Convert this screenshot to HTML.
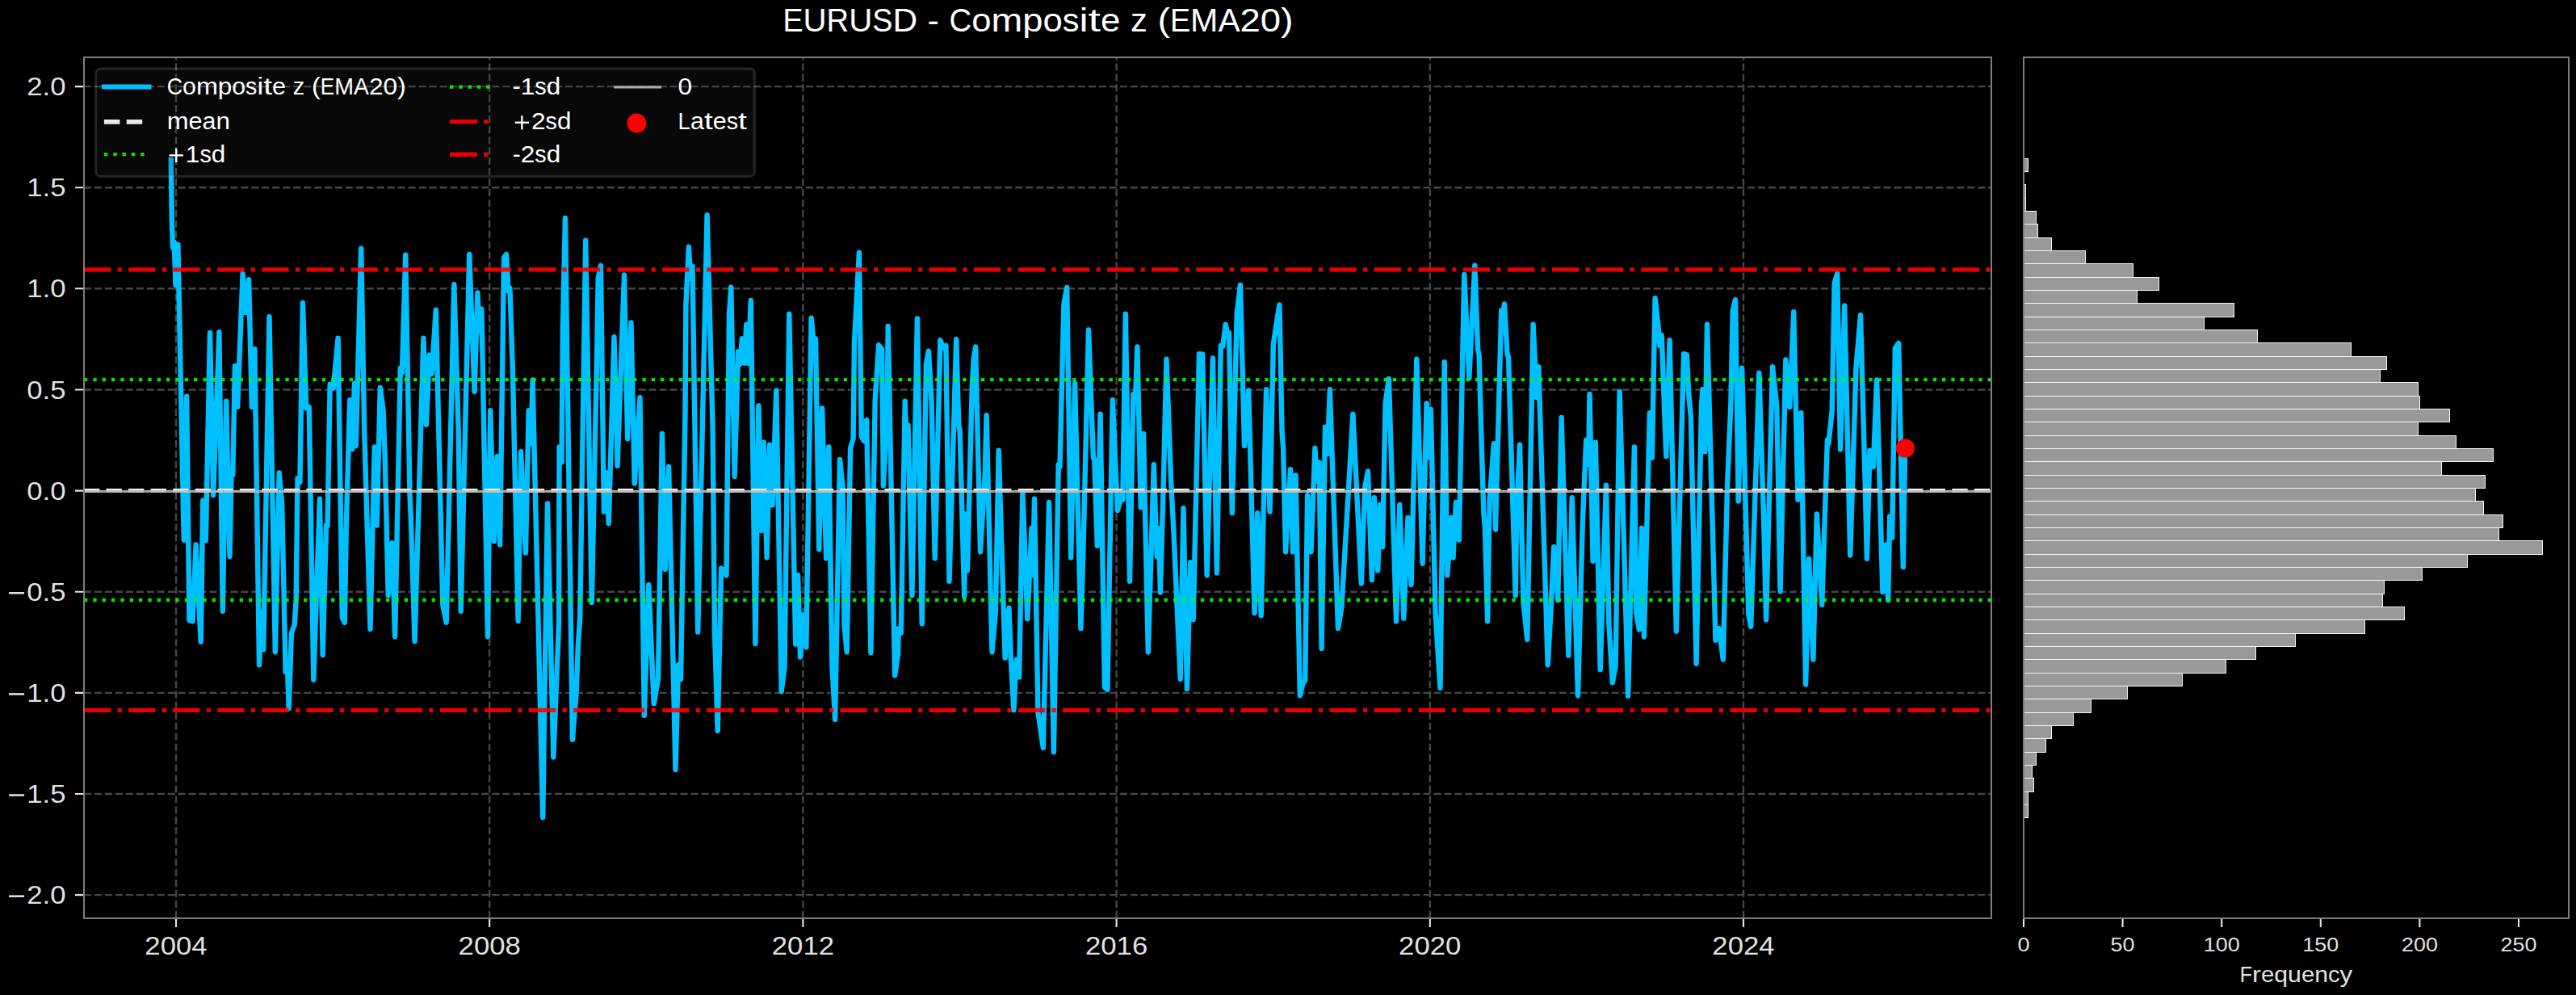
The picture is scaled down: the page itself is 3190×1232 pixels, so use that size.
<!DOCTYPE html>
<html><head><meta charset="utf-8"><title>EURUSD - Composite z (EMA20)</title>
<style>html,body{margin:0;padding:0;background:#000;}svg{display:block;}text{font-family:"Liberation Sans",sans-serif;}</style></head>
<body>
<svg width="3190" height="1232" viewBox="0 0 3190 1232" font-family="Liberation Sans, sans-serif">
<rect width="3190" height="1232" fill="#000"/>
<defs><clipPath id="cp"><rect x="104.0" y="71.0" width="2362.0" height="1066.0"/></clipPath></defs>
<path d="M218.0 1137.0V71.0M606.2 1137.0V71.0M994.4 1137.0V71.0M1382.6 1137.0V71.0M1770.8 1137.0V71.0M2159.0 1137.0V71.0M104.0 1108.1H2466.0M104.0 983.0H2466.0M104.0 857.9H2466.0M104.0 732.7H2466.0M104.0 607.6H2466.0M104.0 482.5H2466.0M104.0 357.3H2466.0M104.0 232.2H2466.0M104.0 107.1H2466.0" stroke="#464646" stroke-width="2.4" stroke-dasharray="9.045 3.912" fill="none"/>
<g clip-path="url(#cp)"><path d="M211.7 194.8 L212.8 272.0 L214.0 307.0 L215.7 299.7 L217.5 353.0 L220.4 302.6 L227.7 668.6 L231.2 490.8 L234.4 767.9 L238.5 769.3 L242.6 674.4 L248.7 794.7 L251.3 619.6 L254.8 669.2 L260.0 411.9 L264.1 613.2 L271.4 411.3 L275.8 756.8 L280.2 496.6 L284.5 689.0 L286.6 582.6 L288.3 588.4 L290.9 452.9 L294.1 503.9 L300.6 339.0 L304.1 387.1 L308.1 346.3 L311.9 503.9 L315.4 432.3 L321.0 823.3 L323.9 759.1 L326.2 804.3 L333.5 392.1 L340.8 807.2 L345.7 585.5 L349.2 624.9 L353.6 832.0 L355.9 824.7 L357.7 877.2 L360.9 783.9 L364.7 773.7 L366.7 741.7 L368.5 592.2 L371.4 597.2 L374.9 374.9 L379.2 505.4 L382.7 503.9 L388.3 841.6 L395.9 617.6 L399.7 811.0 L404.0 650.5 L405.5 651.1 L408.7 475.6 L412.8 480.6 L418.6 418.6 L423.8 765.0 L426.8 770.8 L428.8 651.1 L433.2 495.2 L436.1 556.4 L439.0 474.8 L440.7 552.0 L447.2 307.6 L451.2 534.5 L458.5 779.0 L463.8 553.5 L466.7 650.5 L470.8 480.0 L474.6 508.3 L476.9 572.4 L480.7 737.3 L485.6 672.1 L489.1 788.3 L495.8 455.8 L497.9 461.7 L502.2 315.7 L507.5 613.2 L508.9 642.4 L513.6 794.1 L524.4 418.6 L527.9 525.8 L531.7 439.6 L534.6 463.1 L539.8 383.6 L548.3 748.9 L552.7 770.8 L562.3 352.2 L567.8 537.4 L570.7 756.8 L581.2 314.9 L587.6 485.0 L591.4 362.4 L593.8 410.5 L596.4 382.8 L604.0 788.3 L607.2 508.3 L611.8 670.1 L615.6 565.1 L619.1 674.4 L624.1 318.6 L627.0 314.9 L629.6 360.9 L631.4 356.5 L634.9 458.7 L641.6 768.8 L645.1 559.3 L650.9 684.6 L654.7 508.3 L657.6 549.1 L659.6 470.4 L672.2 1012.1 L678.0 623.4 L685.3 937.5 L692.0 773.7 L692.6 553.5 L695.5 572.4 L696.9 406.1 L699.9 270.0 L708.9 915.7 L713.6 858.2 L715.9 798.5 L718.2 765.0 L725.2 297.7 L732.8 746.0 L739.2 438.1 L740.7 344.9 L743.9 328.8 L747.9 633.6 L750.9 585.5 L753.8 648.2 L760.5 417.2 L764.6 576.8 L773.0 340.5 L777.1 543.3 L781.5 399.4 L785.8 598.6 L792.5 492.3 L797.8 885.9 L803.3 724.2 L809.7 871.4 L815.0 840.8 L819.9 536.9 L823.7 705.0 L828.1 577.7 L836.5 953.0 L840.0 823.3 L843.0 841.3 L848.5 512.7 L849.4 376.9 L852.9 305.8 L855.2 344.9 L857.5 329.7 L864.2 782.5 L875.6 266.2 L882.6 528.7 L884.9 778.1 L888.7 904.9 L893.1 703.6 L899.5 712.3 L903.0 388.6 L905.3 355.7 L909.7 589.9 L914.1 435.2 L916.1 451.3 L919.0 419.2 L921.7 449.8 L924.3 401.7 L926.6 449.8 L929.8 372.0 L935.4 797.0 L939.4 502.5 L942.9 656.9 L945.8 547.6 L949.6 690.5 L953.1 550.6 L956.6 625.5 L961.3 483.5 L967.7 856.2 L971.5 826.2 L977.3 388.6 L985.2 797.6 L988.1 712.3 L991.0 813.6 L994.2 761.5 L998.3 801.4 L1004.7 393.8 L1007.6 423.6 L1010.0 419.2 L1014.3 680.3 L1018.1 505.4 L1023.1 691.3 L1026.3 553.5 L1030.4 823.3 L1034.1 890.9 L1040.0 568.9 L1043.5 601.6 L1045.5 773.7 L1048.7 807.2 L1053.1 554.9 L1056.6 543.3 L1058.0 423.6 L1063.9 312.8 L1066.8 540.4 L1070.0 546.2 L1073.2 520.0 L1078.4 808.1 L1083.7 495.2 L1088.1 427.1 L1092.1 432.3 L1093.9 601.6 L1098.8 502.5 L1099.7 404.0 L1108.2 836.4 L1112.0 810.2 L1112.8 778.1 L1115.8 783.9 L1120.7 496.6 L1122.5 552.0 L1124.5 526.4 L1129.4 737.3 L1135.9 394.4 L1141.7 772.3 L1146.9 451.3 L1149.9 434.6 L1153.6 496.6 L1157.7 691.3 L1164.4 421.2 L1167.9 430.9 L1171.4 427.9 L1175.5 719.6 L1184.2 420.1 L1187.2 525.8 L1188.6 533.1 L1194.2 738.7 L1195.3 636.5 L1197.9 706.5 L1203.8 479.1 L1205.8 444.0 L1208.1 429.4 L1214.0 683.2 L1219.8 587.0 L1221.6 514.1 L1228.5 807.2 L1232.9 757.7 L1236.7 557.8 L1244.6 814.5 L1249.5 752.7 L1251.9 817.4 L1255.4 879.2 L1258.6 816.6 L1262.1 838.4 L1266.4 608.8 L1272.3 766.4 L1277.5 654.0 L1279.0 712.3 L1281.0 617.6 L1285.4 881.6 L1288.3 902.0 L1291.8 925.9 L1299.1 622.0 L1304.9 931.1 L1310.7 575.3 L1312.5 578.2 L1317.4 376.9 L1321.2 356.0 L1326.2 690.5 L1331.1 474.8 L1338.4 778.1 L1341.6 674.4 L1348.0 408.4 L1353.9 566.6 L1355.3 569.5 L1358.8 675.9 L1362.6 512.7 L1367.9 851.0 L1371.4 853.9 L1377.8 495.2 L1383.9 632.2 L1388.8 613.2 L1390.3 619.0 L1393.8 388.6 L1399.0 719.6 L1403.4 487.9 L1405.8 498.1 L1408.4 429.4 L1412.7 628.4 L1416.0 536.9 L1421.8 807.2 L1428.8 575.3 L1432.6 689.0 L1434.9 654.0 L1436.9 733.5 L1441.3 578.2 L1444.5 444.6 L1450.1 595.7 L1453.0 649.7 L1461.7 840.8 L1465.5 629.2 L1469.9 853.0 L1474.2 696.3 L1477.7 767.3 L1485.0 438.1 L1489.1 438.7 L1494.6 712.3 L1501.9 443.4 L1506.9 709.4 L1511.8 427.9 L1514.2 428.8 L1517.7 401.7 L1520.0 413.4 L1522.0 411.9 L1525.8 635.1 L1531.7 388.6 L1536.0 353.0 L1541.0 552.0 L1546.2 483.5 L1553.5 759.1 L1557.3 635.1 L1561.7 762.1 L1568.1 482.1 L1572.5 633.6 L1576.8 426.5 L1579.8 406.1 L1584.4 377.5 L1587.6 534.5 L1589.1 554.9 L1592.0 683.2 L1598.1 581.2 L1601.0 683.2 L1604.5 588.4 L1609.8 861.2 L1613.3 846.6 L1616.2 842.2 L1619.1 613.2 L1623.5 683.2 L1628.4 554.9 L1631.3 595.7 L1633.7 572.4 L1636.6 802.9 L1641.0 528.7 L1643.9 562.2 L1646.8 482.1 L1657.0 778.1 L1661.4 751.9 L1675.4 512.7 L1685.8 722.5 L1690.2 603.0 L1694.0 583.5 L1698.9 718.1 L1701.9 616.1 L1706.2 706.5 L1709.1 624.9 L1712.1 677.3 L1715.6 499.5 L1719.9 468.9 L1729.0 769.3 L1733.3 624.9 L1738.3 765.6 L1743.5 640.9 L1747.6 724.0 L1754.3 444.6 L1761.6 697.7 L1766.6 499.5 L1768.9 566.6 L1771.8 506.8 L1777.6 759.1 L1783.5 851.8 L1788.7 448.3 L1792.2 712.3 L1797.2 640.9 L1799.5 690.5 L1803.0 622.0 L1806.8 668.6 L1813.2 339.9 L1819.3 468.1 L1826.3 328.8 L1830.1 432.3 L1831.6 439.6 L1834.5 543.3 L1837.4 636.5 L1838.8 651.1 L1842.1 769.3 L1844.7 617.6 L1849.9 549.1 L1852.0 655.5 L1859.2 384.2 L1860.7 391.5 L1863.0 376.4 L1866.5 438.1 L1868.0 442.5 L1876.7 737.3 L1878.2 636.5 L1882.0 550.6 L1886.4 746.0 L1891.3 791.8 L1898.6 401.7 L1903.0 492.3 L1905.3 454.2 L1916.7 823.3 L1920.5 756.2 L1924.2 677.3 L1929.2 743.1 L1933.6 517.0 L1942.3 811.6 L1946.7 616.1 L1954.0 861.2 L1959.8 648.2 L1964.2 544.7 L1967.1 575.3 L1968.5 487.9 L1972.6 694.8 L1975.8 547.6 L1981.7 829.1 L1988.9 601.0 L1992.4 772.3 L1996.8 845.1 L2000.6 824.7 L2005.6 485.0 L2010.8 665.7 L2016.1 861.7 L2023.9 553.5 L2026.3 759.1 L2029.8 779.5 L2033.0 654.0 L2035.9 788.3 L2042.9 511.2 L2045.8 566.6 L2049.6 369.1 L2053.1 400.3 L2055.4 427.9 L2057.7 414.8 L2063.3 565.1 L2067.6 421.2 L2075.8 781.6 L2085.1 438.1 L2088.9 439.6 L2091.0 485.0 L2093.9 517.0 L2100.6 821.8 L2107.0 502.5 L2108.4 482.1 L2111.4 559.3 L2114.0 401.7 L2124.5 792.7 L2128.8 778.1 L2133.8 816.6 L2139.0 601.6 L2143.4 499.5 L2145.8 384.2 L2149.0 371.1 L2152.7 620.5 L2157.1 455.6 L2165.3 760.6 L2168.2 775.8 L2178.4 461.7 L2184.2 648.2 L2187.1 767.3 L2195.0 454.2 L2200.3 502.5 L2204.6 732.3 L2211.3 445.4 L2216.3 503.9 L2221.2 386.3 L2226.5 619.0 L2230.3 511.2 L2236.1 847.5 L2240.2 691.9 L2245.4 816.6 L2249.8 636.5 L2256.2 748.9 L2262.9 544.7 L2264.4 549.1 L2268.7 508.3 L2271.7 350.7 L2275.2 338.5 L2279.0 556.4 L2284.2 378.4 L2291.2 687.5 L2298.5 454.2 L2304.0 390.1 L2309.6 595.7 L2311.9 691.9 L2315.4 557.8 L2319.8 578.2 L2324.1 470.4 L2331.4 732.9 L2335.2 674.4 L2338.1 743.1 L2340.2 639.4 L2343.1 665.7 L2346.9 430.9 L2351.2 425.0 L2356.8 702.1 L2359.1 554.9" stroke="#00bfff" stroke-width="6.4" stroke-linejoin="round" stroke-linecap="butt" fill="none"/></g>
<path d="M104.0 607.5H2466.0" stroke="#f0f0f0" stroke-width="5.2" stroke-dasharray="19.23 8.31" fill="none"/>
<path d="M104.0 470.2H2466.0" stroke="#00ff00" stroke-opacity="0.9" stroke-width="4.3" stroke-dasharray="4.3 7.035" fill="none"/>
<path d="M104.0 743.0H2466.0" stroke="#00ff00" stroke-opacity="0.9" stroke-width="4.3" stroke-dasharray="4.3 7.035" fill="none"/>
<path d="M104.0 333.8H2466.0" stroke="#ff0000" stroke-opacity="0.9" stroke-width="5.2" stroke-dasharray="33.26 8.315 5.2 8.315" fill="none"/>
<path d="M104.0 879.4H2466.0" stroke="#ff0000" stroke-opacity="0.9" stroke-width="5.2" stroke-dasharray="33.26 8.315 5.2 8.315" fill="none"/>
<path d="M104.0 608.5H2466.0" stroke="#b8b8b8" stroke-opacity="0.87" stroke-width="3.0" fill="none"/>
<circle cx="2359.2" cy="555.0" r="11.6" fill="#ff0000"/>
<rect x="104.0" y="71.0" width="2362.0" height="1066.0" fill="none" stroke="#7e7e7e" stroke-width="2"/>
<path d="M218.0 1138.0v10M606.2 1138.0v10M994.4 1138.0v10M1382.6 1138.0v10M1770.8 1138.0v10M2159.0 1138.0v10M103.0 1108.1h-10M103.0 983.0h-10M103.0 857.9h-10M103.0 732.7h-10M103.0 607.6h-10M103.0 482.5h-10M103.0 357.3h-10M103.0 232.2h-10M103.0 107.1h-10" stroke="#e6e6e6" stroke-width="2.1" fill="none"/>
<g font-size="31.01" fill="#e2e2e2"><text x="179.3" y="1182.2" textLength="19.3" lengthAdjust="spacingAndGlyphs">2</text><text x="198.7" y="1182.2" textLength="19.3" lengthAdjust="spacingAndGlyphs">0</text><text x="218.0" y="1182.2" textLength="19.3" lengthAdjust="spacingAndGlyphs">0</text><text x="237.3" y="1182.2" textLength="19.3" lengthAdjust="spacingAndGlyphs">4</text></g>
<g font-size="31.01" fill="#e2e2e2"><text x="567.5" y="1182.2" textLength="19.3" lengthAdjust="spacingAndGlyphs">2</text><text x="586.9" y="1182.2" textLength="19.3" lengthAdjust="spacingAndGlyphs">0</text><text x="606.2" y="1182.2" textLength="19.3" lengthAdjust="spacingAndGlyphs">0</text><text x="625.5" y="1182.2" textLength="19.3" lengthAdjust="spacingAndGlyphs">8</text></g>
<g font-size="31.01" fill="#e2e2e2"><text x="955.7" y="1182.2" textLength="19.3" lengthAdjust="spacingAndGlyphs">2</text><text x="975.1" y="1182.2" textLength="19.3" lengthAdjust="spacingAndGlyphs">0</text><text x="994.4" y="1182.2" textLength="19.3" lengthAdjust="spacingAndGlyphs">1</text><text x="1013.7" y="1182.2" textLength="19.3" lengthAdjust="spacingAndGlyphs">2</text></g>
<g font-size="31.01" fill="#e2e2e2"><text x="1343.9" y="1182.2" textLength="19.3" lengthAdjust="spacingAndGlyphs">2</text><text x="1363.3" y="1182.2" textLength="19.3" lengthAdjust="spacingAndGlyphs">0</text><text x="1382.6" y="1182.2" textLength="19.3" lengthAdjust="spacingAndGlyphs">1</text><text x="1401.9" y="1182.2" textLength="19.3" lengthAdjust="spacingAndGlyphs">6</text></g>
<g font-size="31.01" fill="#e2e2e2"><text x="1732.1" y="1182.2" textLength="19.3" lengthAdjust="spacingAndGlyphs">2</text><text x="1751.5" y="1182.2" textLength="19.3" lengthAdjust="spacingAndGlyphs">0</text><text x="1770.8" y="1182.2" textLength="19.3" lengthAdjust="spacingAndGlyphs">2</text><text x="1790.1" y="1182.2" textLength="19.3" lengthAdjust="spacingAndGlyphs">0</text></g>
<g font-size="31.01" fill="#e2e2e2"><text x="2120.3" y="1182.2" textLength="19.3" lengthAdjust="spacingAndGlyphs">2</text><text x="2139.7" y="1182.2" textLength="19.3" lengthAdjust="spacingAndGlyphs">0</text><text x="2159.0" y="1182.2" textLength="19.3" lengthAdjust="spacingAndGlyphs">2</text><text x="2178.3" y="1182.2" textLength="19.3" lengthAdjust="spacingAndGlyphs">4</text></g>
<g font-size="31.01" fill="#e2e2e2"><rect x="11.01" y="1108.41" width="19.03" height="2.55"/><text x="33.3" y="1119.2" textLength="19.3" lengthAdjust="spacingAndGlyphs">2</text><text x="52.6" y="1119.2" textLength="9.7" lengthAdjust="spacingAndGlyphs">.</text><text x="62.3" y="1119.2" textLength="19.3" lengthAdjust="spacingAndGlyphs">0</text></g>
<g font-size="31.01" fill="#e2e2e2"><rect x="11.01" y="983.28" width="19.03" height="2.55"/><text x="33.3" y="994.1" textLength="19.3" lengthAdjust="spacingAndGlyphs">1</text><text x="52.6" y="994.1" textLength="9.7" lengthAdjust="spacingAndGlyphs">.</text><text x="62.3" y="994.1" textLength="19.3" lengthAdjust="spacingAndGlyphs">5</text></g>
<g font-size="31.01" fill="#e2e2e2"><rect x="11.01" y="858.15" width="19.03" height="2.55"/><text x="33.3" y="869.0" textLength="19.3" lengthAdjust="spacingAndGlyphs">1</text><text x="52.6" y="869.0" textLength="9.7" lengthAdjust="spacingAndGlyphs">.</text><text x="62.3" y="869.0" textLength="19.3" lengthAdjust="spacingAndGlyphs">0</text></g>
<g font-size="31.01" fill="#e2e2e2"><rect x="11.01" y="733.02" width="19.03" height="2.55"/><text x="33.3" y="743.8" textLength="19.3" lengthAdjust="spacingAndGlyphs">0</text><text x="52.6" y="743.8" textLength="9.7" lengthAdjust="spacingAndGlyphs">.</text><text x="62.3" y="743.8" textLength="19.3" lengthAdjust="spacingAndGlyphs">5</text></g>
<g font-size="31.01" fill="#e2e2e2"><text x="33.3" y="618.7" textLength="19.3" lengthAdjust="spacingAndGlyphs">0</text><text x="52.6" y="618.7" textLength="9.7" lengthAdjust="spacingAndGlyphs">.</text><text x="62.3" y="618.7" textLength="19.3" lengthAdjust="spacingAndGlyphs">0</text></g>
<g font-size="31.01" fill="#e2e2e2"><text x="33.3" y="493.6" textLength="19.3" lengthAdjust="spacingAndGlyphs">0</text><text x="52.6" y="493.6" textLength="9.7" lengthAdjust="spacingAndGlyphs">.</text><text x="62.3" y="493.6" textLength="19.3" lengthAdjust="spacingAndGlyphs">5</text></g>
<g font-size="31.01" fill="#e2e2e2"><text x="33.3" y="368.4" textLength="19.3" lengthAdjust="spacingAndGlyphs">1</text><text x="52.6" y="368.4" textLength="9.7" lengthAdjust="spacingAndGlyphs">.</text><text x="62.3" y="368.4" textLength="19.3" lengthAdjust="spacingAndGlyphs">0</text></g>
<g font-size="31.01" fill="#e2e2e2"><text x="33.3" y="243.3" textLength="19.3" lengthAdjust="spacingAndGlyphs">1</text><text x="52.6" y="243.3" textLength="9.7" lengthAdjust="spacingAndGlyphs">.</text><text x="62.3" y="243.3" textLength="19.3" lengthAdjust="spacingAndGlyphs">5</text></g>
<g font-size="31.01" fill="#e2e2e2"><text x="33.3" y="118.2" textLength="19.3" lengthAdjust="spacingAndGlyphs">2</text><text x="52.6" y="118.2" textLength="9.7" lengthAdjust="spacingAndGlyphs">.</text><text x="62.3" y="118.2" textLength="19.3" lengthAdjust="spacingAndGlyphs">0</text></g>
<g font-size="41.29" fill="#ffffff"><text x="969.5" y="39.1" textLength="25.1" lengthAdjust="spacingAndGlyphs">E</text><text x="994.6" y="39.1" textLength="29.1" lengthAdjust="spacingAndGlyphs">U</text><text x="1023.6" y="39.1" textLength="27.6" lengthAdjust="spacingAndGlyphs">R</text><text x="1051.2" y="39.1" textLength="29.1" lengthAdjust="spacingAndGlyphs">U</text><text x="1080.3" y="39.1" textLength="25.2" lengthAdjust="spacingAndGlyphs">S</text><text x="1105.5" y="39.1" textLength="30.6" lengthAdjust="spacingAndGlyphs">D</text><text x="1148.6" y="39.1" textLength="14.3" lengthAdjust="spacingAndGlyphs">-</text><text x="1175.6" y="39.1" textLength="27.7" lengthAdjust="spacingAndGlyphs">C</text><text x="1203.3" y="39.1" textLength="24.3" lengthAdjust="spacingAndGlyphs">o</text><text x="1227.6" y="39.1" textLength="38.7" lengthAdjust="spacingAndGlyphs">m</text><text x="1266.3" y="39.1" textLength="25.2" lengthAdjust="spacingAndGlyphs">p</text><text x="1291.5" y="39.1" textLength="24.3" lengthAdjust="spacingAndGlyphs">o</text><text x="1315.8" y="39.1" textLength="20.7" lengthAdjust="spacingAndGlyphs">s</text><text x="1336.4" y="39.1" textLength="11.0" lengthAdjust="spacingAndGlyphs">i</text><text x="1347.5" y="39.1" textLength="15.6" lengthAdjust="spacingAndGlyphs">t</text><text x="1363.0" y="39.1" textLength="24.4" lengthAdjust="spacingAndGlyphs">e</text><text x="1400.1" y="39.1" textLength="20.8" lengthAdjust="spacingAndGlyphs">z</text><text x="1433.5" y="39.1" textLength="15.5" lengthAdjust="spacingAndGlyphs">(</text><text x="1449.0" y="39.1" textLength="25.1" lengthAdjust="spacingAndGlyphs">E</text><text x="1474.1" y="39.1" textLength="34.3" lengthAdjust="spacingAndGlyphs">M</text><text x="1508.4" y="39.1" textLength="27.2" lengthAdjust="spacingAndGlyphs">A</text><text x="1535.5" y="39.1" textLength="25.3" lengthAdjust="spacingAndGlyphs">2</text><text x="1560.8" y="39.1" textLength="25.3" lengthAdjust="spacingAndGlyphs">0</text><text x="1586.0" y="39.1" textLength="15.5" lengthAdjust="spacingAndGlyphs">)</text></g>
<rect x="118.7" y="84.9" width="815.6999999999999" height="133.5" rx="5.5" fill="#353535" fill-opacity="0.15" stroke="#d8d8d8" stroke-opacity="0.155" stroke-width="3"/>
<path d="M125.9 107.6H187.5" stroke="#00bfff" stroke-width="6"/>
<path d="M128.9 150.9H184.5" stroke="#e8e8e8" stroke-width="5.6" stroke-dasharray="19.5 8.3"/>
<path d="M128.9 191.2H184.5" stroke="#00ff00" stroke-opacity="0.9" stroke-width="4.2" stroke-dasharray="4.4 6.9"/>
<g font-size="28.98" fill="#fff"><text x="206.7" y="117.4" textLength="19.3" lengthAdjust="spacingAndGlyphs">C</text><text x="226.0" y="117.4" textLength="16.9" lengthAdjust="spacingAndGlyphs">o</text><text x="242.9" y="117.4" textLength="26.9" lengthAdjust="spacingAndGlyphs">m</text><text x="269.7" y="117.4" textLength="17.5" lengthAdjust="spacingAndGlyphs">p</text><text x="287.3" y="117.4" textLength="16.9" lengthAdjust="spacingAndGlyphs">o</text><text x="304.1" y="117.4" textLength="14.4" lengthAdjust="spacingAndGlyphs">s</text><text x="318.5" y="117.4" textLength="7.7" lengthAdjust="spacingAndGlyphs">i</text><text x="326.2" y="117.4" textLength="10.8" lengthAdjust="spacingAndGlyphs">t</text><text x="337.0" y="117.4" textLength="17.0" lengthAdjust="spacingAndGlyphs">e</text><text x="362.8" y="117.4" textLength="14.5" lengthAdjust="spacingAndGlyphs">z</text><text x="386.0" y="117.4" textLength="10.8" lengthAdjust="spacingAndGlyphs">(</text><text x="396.8" y="117.4" textLength="17.4" lengthAdjust="spacingAndGlyphs">E</text><text x="414.2" y="117.4" textLength="23.8" lengthAdjust="spacingAndGlyphs">M</text><text x="438.0" y="117.4" textLength="18.9" lengthAdjust="spacingAndGlyphs">A</text><text x="456.9" y="117.4" textLength="17.6" lengthAdjust="spacingAndGlyphs">2</text><text x="474.5" y="117.4" textLength="17.6" lengthAdjust="spacingAndGlyphs">0</text><text x="492.0" y="117.4" textLength="10.8" lengthAdjust="spacingAndGlyphs">)</text></g>
<g font-size="28.98" fill="#fff"><text x="206.7" y="160.4" textLength="26.9" lengthAdjust="spacingAndGlyphs">m</text><text x="233.6" y="160.4" textLength="17.0" lengthAdjust="spacingAndGlyphs">e</text><text x="250.6" y="160.4" textLength="16.9" lengthAdjust="spacingAndGlyphs">a</text><text x="267.5" y="160.4" textLength="17.5" lengthAdjust="spacingAndGlyphs">n</text></g>
<g font-size="28.98" fill="#fff"><rect x="209.63" y="191.19" width="17.28" height="2.32"/><rect x="217.11" y="183.71" width="2.32" height="17.28"/><text x="229.8" y="201.0" textLength="17.6" lengthAdjust="spacingAndGlyphs">1</text><text x="247.4" y="201.0" textLength="14.4" lengthAdjust="spacingAndGlyphs">s</text><text x="261.8" y="201.0" textLength="17.5" lengthAdjust="spacingAndGlyphs">d</text></g>
<path d="M557.0 107.6H612.6" stroke="#00ff00" stroke-opacity="0.9" stroke-width="4.2" stroke-dasharray="4.4 6.9"/>
<path d="M557.0 150.6H609.6" stroke="#ff0000" stroke-opacity="0.9" stroke-width="5.4" stroke-dasharray="34 8.2 5.4 20"/>
<path d="M557.0 191.2H609.6" stroke="#ff0000" stroke-opacity="0.9" stroke-width="5.4" stroke-dasharray="34 8.2 5.4 20"/>
<g font-size="28.98" fill="#fff"><text x="634.8" y="117.4" textLength="10.0" lengthAdjust="spacingAndGlyphs">-</text><text x="644.8" y="117.4" textLength="17.6" lengthAdjust="spacingAndGlyphs">1</text><text x="662.3" y="117.4" textLength="14.4" lengthAdjust="spacingAndGlyphs">s</text><text x="676.7" y="117.4" textLength="17.5" lengthAdjust="spacingAndGlyphs">d</text></g>
<g font-size="28.98" fill="#fff"><rect x="637.73" y="150.59" width="17.28" height="2.32"/><rect x="645.21" y="143.11" width="2.32" height="17.28"/><text x="657.9" y="160.4" textLength="17.6" lengthAdjust="spacingAndGlyphs">2</text><text x="675.5" y="160.4" textLength="14.4" lengthAdjust="spacingAndGlyphs">s</text><text x="689.9" y="160.4" textLength="17.5" lengthAdjust="spacingAndGlyphs">d</text></g>
<g font-size="28.98" fill="#fff"><text x="634.8" y="201.0" textLength="10.0" lengthAdjust="spacingAndGlyphs">-</text><text x="644.8" y="201.0" textLength="17.6" lengthAdjust="spacingAndGlyphs">2</text><text x="662.3" y="201.0" textLength="14.4" lengthAdjust="spacingAndGlyphs">s</text><text x="676.7" y="201.0" textLength="17.5" lengthAdjust="spacingAndGlyphs">d</text></g>
<path d="M760.1999999999999 107.89999999999999H819.0" stroke="#aaaaaa" stroke-width="3.4"/>
<circle cx="788.4" cy="152.5" r="11.9" fill="#ff0000"/>
<g font-size="28.98" fill="#fff"><text x="839.6" y="117.4" textLength="17.6" lengthAdjust="spacingAndGlyphs">0</text></g>
<g font-size="28.98" fill="#fff"><text x="839.6" y="160.4" textLength="15.4" lengthAdjust="spacingAndGlyphs">L</text><text x="855.0" y="160.4" textLength="16.9" lengthAdjust="spacingAndGlyphs">a</text><text x="871.9" y="160.4" textLength="10.8" lengthAdjust="spacingAndGlyphs">t</text><text x="882.7" y="160.4" textLength="17.0" lengthAdjust="spacingAndGlyphs">e</text><text x="899.7" y="160.4" textLength="14.4" lengthAdjust="spacingAndGlyphs">s</text><text x="914.1" y="160.4" textLength="10.8" lengthAdjust="spacingAndGlyphs">t</text></g>
<rect x="2506.0" y="196" width="6" height="17" fill="#999999"/>
<rect x="2506.0" y="228" width="3" height="18" fill="#999999"/>
<rect x="2506.0" y="245" width="3" height="17" fill="#999999"/>
<rect x="2506.0" y="261" width="16" height="17" fill="#999999"/>
<rect x="2506.0" y="277" width="18" height="18" fill="#999999"/>
<rect x="2506.0" y="294" width="35" height="17" fill="#999999"/>
<rect x="2506.0" y="310" width="77" height="17" fill="#999999"/>
<rect x="2506.0" y="326" width="136" height="18" fill="#999999"/>
<rect x="2506.0" y="343" width="168" height="17" fill="#999999"/>
<rect x="2506.0" y="359" width="141" height="17" fill="#999999"/>
<rect x="2506.0" y="375" width="261" height="18" fill="#999999"/>
<rect x="2506.0" y="392" width="224" height="17" fill="#999999"/>
<rect x="2506.0" y="408" width="290" height="17" fill="#999999"/>
<rect x="2506.0" y="424" width="406" height="18" fill="#999999"/>
<rect x="2506.0" y="441" width="450" height="17" fill="#999999"/>
<rect x="2506.0" y="457" width="442" height="17" fill="#999999"/>
<rect x="2506.0" y="473" width="489" height="18" fill="#999999"/>
<rect x="2506.0" y="490" width="491" height="17" fill="#999999"/>
<rect x="2506.0" y="506" width="528" height="17" fill="#999999"/>
<rect x="2506.0" y="522" width="489" height="18" fill="#999999"/>
<rect x="2506.0" y="539" width="536" height="17" fill="#999999"/>
<rect x="2506.0" y="555" width="582" height="17" fill="#999999"/>
<rect x="2506.0" y="571" width="518" height="18" fill="#999999"/>
<rect x="2506.0" y="588" width="572" height="17" fill="#999999"/>
<rect x="2506.0" y="604" width="560" height="17" fill="#999999"/>
<rect x="2506.0" y="620" width="570" height="18" fill="#999999"/>
<rect x="2506.0" y="637" width="594" height="17" fill="#999999"/>
<rect x="2506.0" y="653" width="589" height="17" fill="#999999"/>
<rect x="2506.0" y="669" width="643" height="18" fill="#999999"/>
<rect x="2506.0" y="686" width="550" height="17" fill="#999999"/>
<rect x="2506.0" y="702" width="494" height="17" fill="#999999"/>
<rect x="2506.0" y="718" width="447" height="18" fill="#999999"/>
<rect x="2506.0" y="735" width="445" height="17" fill="#999999"/>
<rect x="2506.0" y="751" width="472" height="17" fill="#999999"/>
<rect x="2506.0" y="767" width="423" height="18" fill="#999999"/>
<rect x="2506.0" y="784" width="337" height="17" fill="#999999"/>
<rect x="2506.0" y="800" width="288" height="17" fill="#999999"/>
<rect x="2506.0" y="816" width="251" height="18" fill="#999999"/>
<rect x="2506.0" y="833" width="197" height="17" fill="#999999"/>
<rect x="2506.0" y="849" width="129" height="17" fill="#999999"/>
<rect x="2506.0" y="865" width="84" height="18" fill="#999999"/>
<rect x="2506.0" y="882" width="62" height="17" fill="#999999"/>
<rect x="2506.0" y="898" width="35" height="17" fill="#999999"/>
<rect x="2506.0" y="914" width="28" height="18" fill="#999999"/>
<rect x="2506.0" y="931" width="16" height="17" fill="#999999"/>
<rect x="2506.0" y="947" width="11" height="17" fill="#999999"/>
<rect x="2506.0" y="963" width="13" height="18" fill="#999999"/>
<rect x="2506.0" y="980" width="6" height="17" fill="#999999"/>
<rect x="2506.0" y="996" width="6" height="17" fill="#999999"/>
<path d="M2506.0 196.5h6M2506.0 212.5h6M2511.5 196v17M2506.0 228.5h3M2506.0 245.5h3M2508.5 228v18M2506.0 245.5h3M2506.0 261.5h3M2508.5 245v17M2506.0 261.5h16M2506.0 277.5h16M2521.5 261v17M2506.0 277.5h18M2506.0 294.5h18M2523.5 277v18M2506.0 294.5h35M2506.0 310.5h35M2540.5 294v17M2506.0 310.5h77M2506.0 326.5h77M2582.5 310v17M2506.0 326.5h136M2506.0 343.5h136M2641.5 326v18M2506.0 343.5h168M2506.0 359.5h168M2673.5 343v17M2506.0 359.5h141M2506.0 375.5h141M2646.5 359v17M2506.0 375.5h261M2506.0 392.5h261M2766.5 375v18M2506.0 392.5h224M2506.0 408.5h224M2729.5 392v17M2506.0 408.5h290M2506.0 424.5h290M2795.5 408v17M2506.0 424.5h406M2506.0 441.5h406M2911.5 424v18M2506.0 441.5h450M2506.0 457.5h450M2955.5 441v17M2506.0 457.5h442M2506.0 473.5h442M2947.5 457v17M2506.0 473.5h489M2506.0 490.5h489M2994.5 473v18M2506.0 490.5h491M2506.0 506.5h491M2996.5 490v17M2506.0 506.5h528M2506.0 522.5h528M3033.5 506v17M2506.0 522.5h489M2506.0 539.5h489M2994.5 522v18M2506.0 539.5h536M2506.0 555.5h536M3041.5 539v17M2506.0 555.5h582M2506.0 571.5h582M3087.5 555v17M2506.0 571.5h518M2506.0 588.5h518M3023.5 571v18M2506.0 588.5h572M2506.0 604.5h572M3077.5 588v17M2506.0 604.5h560M2506.0 620.5h560M3065.5 604v17M2506.0 620.5h570M2506.0 637.5h570M3075.5 620v18M2506.0 637.5h594M2506.0 653.5h594M3099.5 637v17M2506.0 653.5h589M2506.0 669.5h589M3094.5 653v17M2506.0 669.5h643M2506.0 686.5h643M3148.5 669v18M2506.0 686.5h550M2506.0 702.5h550M3055.5 686v17M2506.0 702.5h494M2506.0 718.5h494M2999.5 702v17M2506.0 718.5h447M2506.0 735.5h447M2952.5 718v18M2506.0 735.5h445M2506.0 751.5h445M2950.5 735v17M2506.0 751.5h472M2506.0 767.5h472M2977.5 751v17M2506.0 767.5h423M2506.0 784.5h423M2928.5 767v18M2506.0 784.5h337M2506.0 800.5h337M2842.5 784v17M2506.0 800.5h288M2506.0 816.5h288M2793.5 800v17M2506.0 816.5h251M2506.0 833.5h251M2756.5 816v18M2506.0 833.5h197M2506.0 849.5h197M2702.5 833v17M2506.0 849.5h129M2506.0 865.5h129M2634.5 849v17M2506.0 865.5h84M2506.0 882.5h84M2589.5 865v18M2506.0 882.5h62M2506.0 898.5h62M2567.5 882v17M2506.0 898.5h35M2506.0 914.5h35M2540.5 898v17M2506.0 914.5h28M2506.0 931.5h28M2533.5 914v18M2506.0 931.5h16M2506.0 947.5h16M2521.5 931v17M2506.0 947.5h11M2506.0 963.5h11M2516.5 947v17M2506.0 963.5h13M2506.0 980.5h13M2518.5 963v18M2506.0 980.5h6M2506.0 996.5h6M2511.5 980v17M2506.0 996.5h6M2506.0 1012.5h6M2511.5 996v17" stroke="#f6f6f6" stroke-width="1" fill="none" shape-rendering="crispEdges"/>
<rect x="2506.0" y="71.0" width="675.0" height="1066.0" fill="none" stroke="#7e7e7e" stroke-width="2"/>
<path d="M2506.0 1138.0v10M2628.6 1138.0v10M2751.2 1138.0v10M2873.8 1138.0v10M2996.4 1138.0v10M3119.0 1138.0v10" stroke="#e6e6e6" stroke-width="2.1" fill="none"/>
<g font-size="24.07" fill="#e2e2e2"><text x="2498.5" y="1178.0" textLength="15.0" lengthAdjust="spacingAndGlyphs">0</text></g>
<g font-size="24.07" fill="#e2e2e2"><text x="2613.6" y="1178.0" textLength="15.0" lengthAdjust="spacingAndGlyphs">5</text><text x="2628.6" y="1178.0" textLength="15.0" lengthAdjust="spacingAndGlyphs">0</text></g>
<g font-size="24.07" fill="#e2e2e2"><text x="2728.7" y="1178.0" textLength="15.0" lengthAdjust="spacingAndGlyphs">1</text><text x="2743.7" y="1178.0" textLength="15.0" lengthAdjust="spacingAndGlyphs">0</text><text x="2758.7" y="1178.0" textLength="15.0" lengthAdjust="spacingAndGlyphs">0</text></g>
<g font-size="24.07" fill="#e2e2e2"><text x="2851.3" y="1178.0" textLength="15.0" lengthAdjust="spacingAndGlyphs">1</text><text x="2866.3" y="1178.0" textLength="15.0" lengthAdjust="spacingAndGlyphs">5</text><text x="2881.3" y="1178.0" textLength="15.0" lengthAdjust="spacingAndGlyphs">0</text></g>
<g font-size="24.07" fill="#e2e2e2"><text x="2973.9" y="1178.0" textLength="15.0" lengthAdjust="spacingAndGlyphs">2</text><text x="2988.9" y="1178.0" textLength="15.0" lengthAdjust="spacingAndGlyphs">0</text><text x="3003.9" y="1178.0" textLength="15.0" lengthAdjust="spacingAndGlyphs">0</text></g>
<g font-size="24.07" fill="#e2e2e2"><text x="3096.5" y="1178.0" textLength="15.0" lengthAdjust="spacingAndGlyphs">2</text><text x="3111.5" y="1178.0" textLength="15.0" lengthAdjust="spacingAndGlyphs">5</text><text x="3126.5" y="1178.0" textLength="15.0" lengthAdjust="spacingAndGlyphs">0</text></g>
<g font-size="27.83" fill="#e2e2e2"><text x="2773.8" y="1216.2" textLength="15.2" lengthAdjust="spacingAndGlyphs">F</text><text x="2789.0" y="1216.2" textLength="10.9" lengthAdjust="spacingAndGlyphs">r</text><text x="2799.9" y="1216.2" textLength="16.3" lengthAdjust="spacingAndGlyphs">e</text><text x="2816.2" y="1216.2" textLength="16.8" lengthAdjust="spacingAndGlyphs">q</text><text x="2833.1" y="1216.2" textLength="16.8" lengthAdjust="spacingAndGlyphs">u</text><text x="2849.9" y="1216.2" textLength="16.3" lengthAdjust="spacingAndGlyphs">e</text><text x="2866.2" y="1216.2" textLength="16.8" lengthAdjust="spacingAndGlyphs">n</text><text x="2883.0" y="1216.2" textLength="14.6" lengthAdjust="spacingAndGlyphs">c</text><text x="2897.5" y="1216.2" textLength="15.7" lengthAdjust="spacingAndGlyphs">y</text></g>
</svg>
</body></html>
